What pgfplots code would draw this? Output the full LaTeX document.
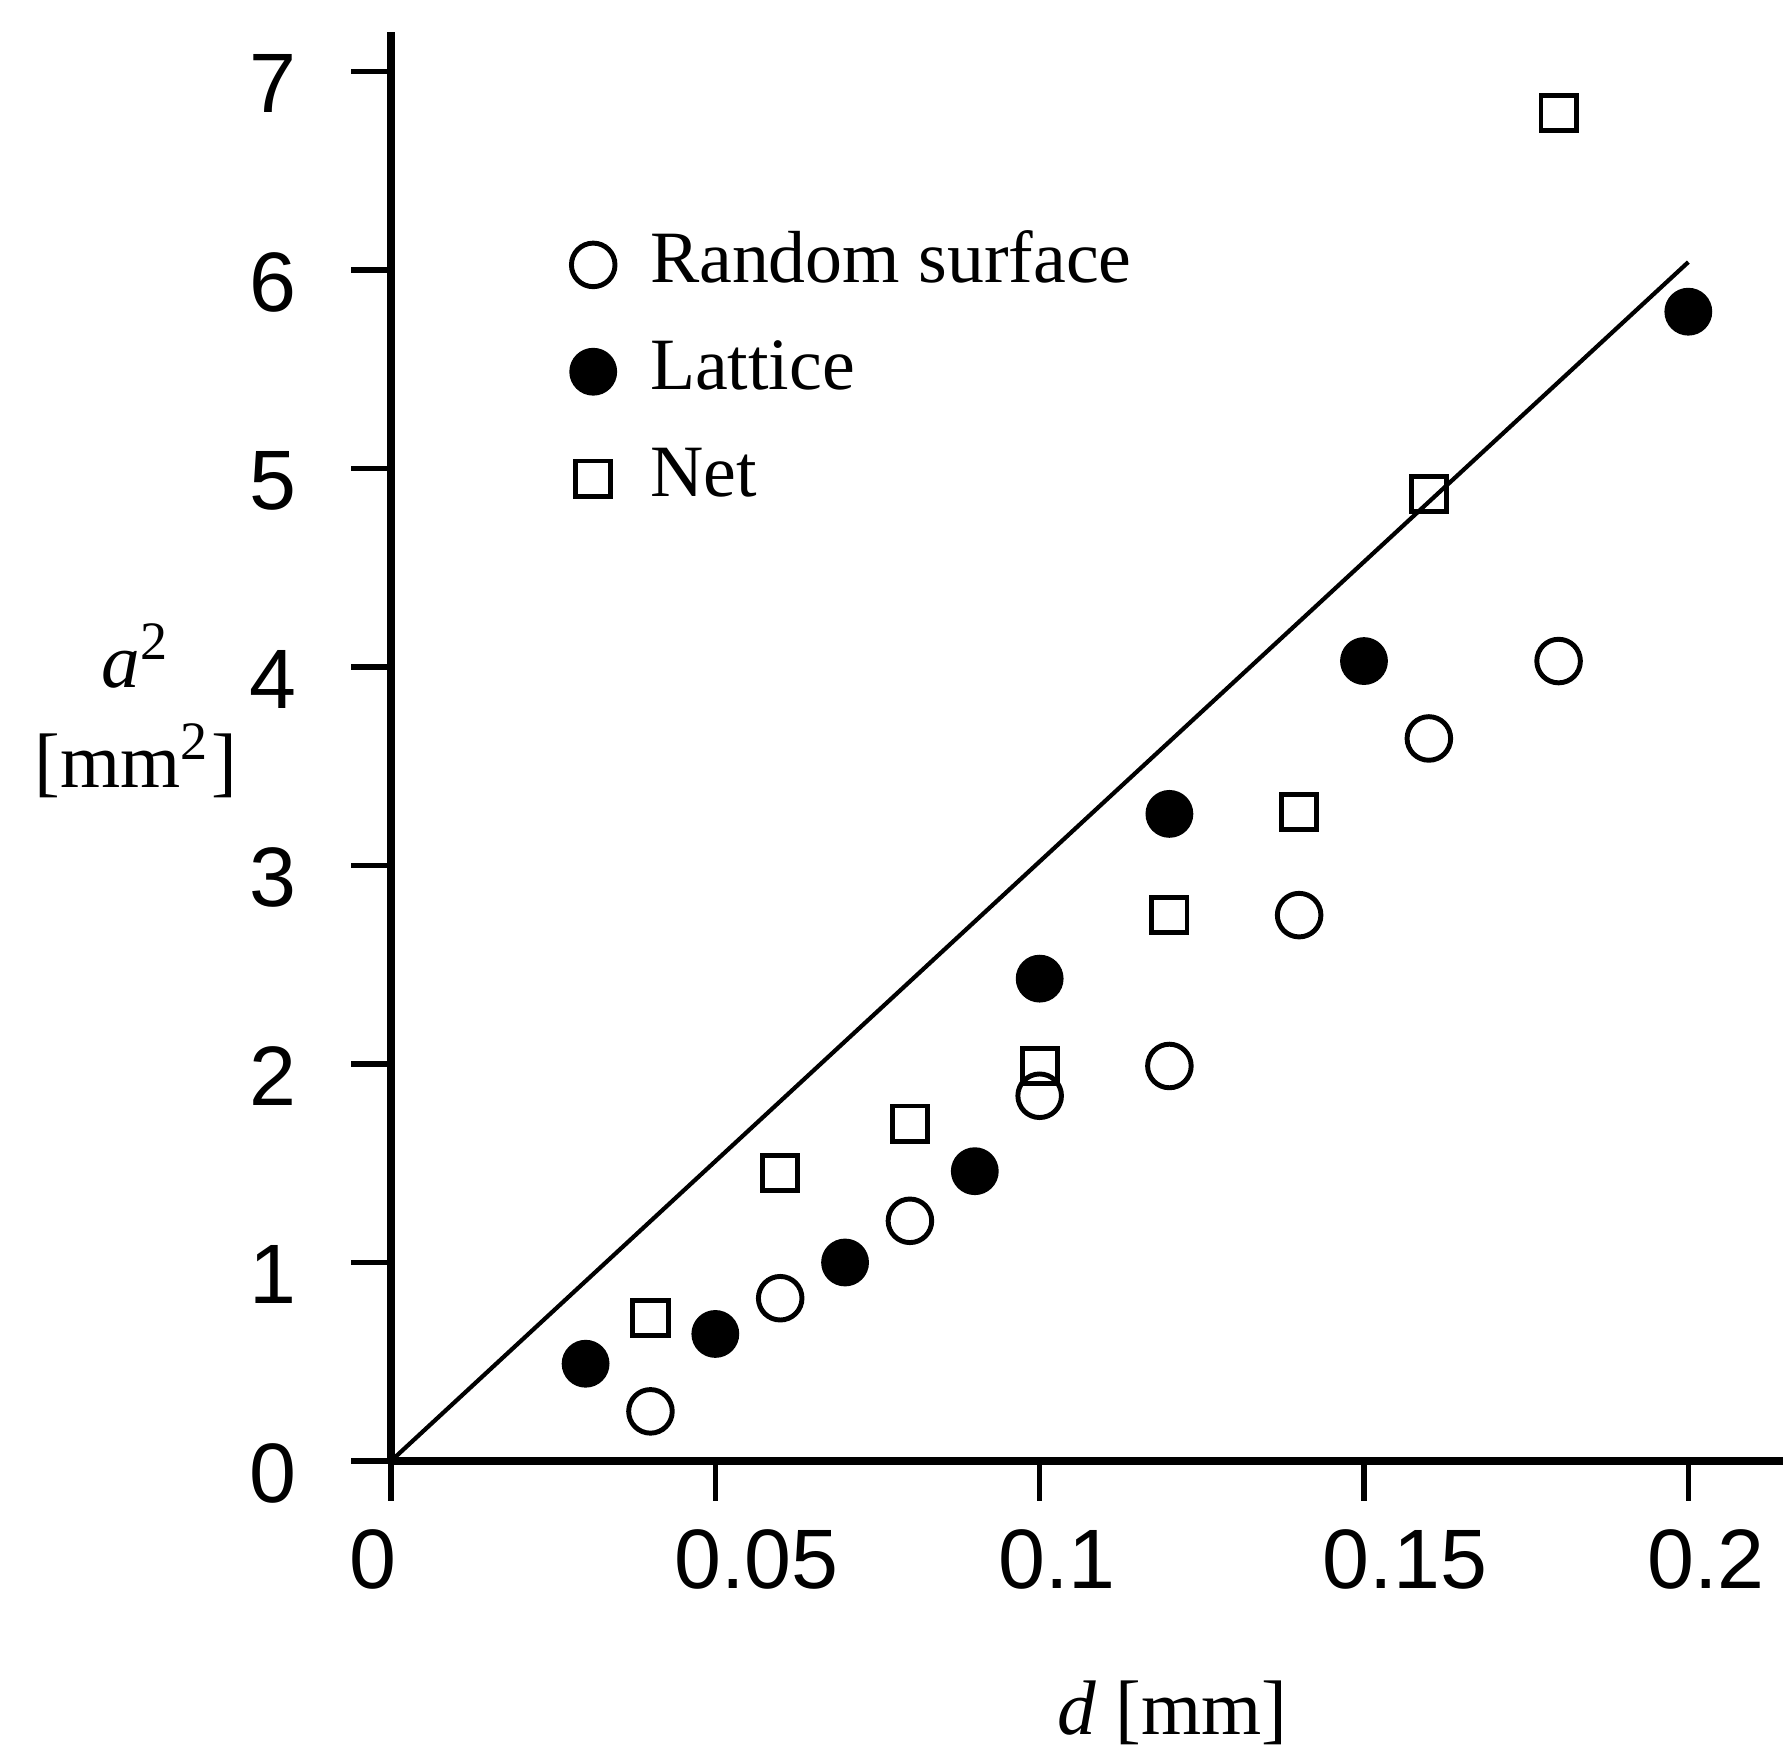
\documentclass[border=0pt]{standalone}
\usepackage{fontspec}
\setmainfont{Liberation Serif}
\newfontfamily\ticksans{Liberation Sans}
\usepackage{pgfplots}
\usepackage{pgfplotstable}
\pgfplotsset{compat=1.18}

% d [mm]  a^2 [mm^2]
\pgfplotstableread{
d    a
0.04 0.25
0.06 0.82
0.08 1.21
0.10 1.84
0.12 1.99
0.14 2.75
0.16 3.64
0.18 4.03
}\randomsurf

\pgfplotstableread{
d    a
0.03 0.49
0.05 0.64
0.07 1.00
0.09 1.46
0.10 2.43
0.12 3.26
0.15 4.03
0.20 5.79
}\lattice

\pgfplotstableread{
d    a
0.04 0.72
0.06 1.45
0.08 1.70
0.10 1.99
0.12 2.75
0.14 3.27
0.16 4.87
0.18 6.79
}\net

\begin{document}
\begin{tikzpicture}
\path[use as bounding box] (-1.955cm,-1.455cm) rectangle (7.005cm,7.305cm);
\begin{axis}[
    scale only axis,
    width=6.96cm, height=7.146cm,
    xmin=0, xmax=0.2146,
    ymin=0, ymax=7.2,
    axis lines=left,
    axis line style={-, line width=1pt},
    tick align=outside,
    major tick length=0.2cm,
    tick style={line width=0.8pt, black},
    xtick={0,0.05,0.1,0.15,0.2},
    xticklabels={0,0.05,0.1,0.15,0.2},
    ytick={0,1,...,7},
    /pgf/number format/assume math mode=true,
    ticklabel style={font=\ticksans\fontsize{12}{14}\selectfont},
    xticklabel style={anchor=north west, xshift=-0.33cm, yshift=-0.02cm},
    yticklabel style={anchor=east, xshift=-0.15cm, yshift=-0.06cm},
    xlabel={\textit{d} [mm]},
    xlabel style={at={(axis cs:0.1205,-1.27)}, anchor=center, font=\fontsize{11}{13}\selectfont},
    ylabel={\textit{a}\textsuperscript{2}\\{[mm\textsuperscript{2}]}},
    ylabel style={rotate=-90, align=center, at={(axis cs:-0.0393,3.78)}, anchor=center,
                  font=\fontsize{11}{14.2}\selectfont},
    clip=false,
    reverse legend,
    legend cell align=left,
    legend image code/.code={\draw[mark repeat=2,mark phase=2,#1]
        plot coordinates {(0cm,0cm) (0.1cm,0cm) (0.2cm,0cm)};},
    legend style={draw=none, fill=none, inner sep=0pt,
        at={(axis cs:0.0276,6.21)}, anchor=north west,
        font=\fontsize{10.5}{12}\selectfont,
        nodes={inner sep=0pt, text height=7.5pt, text depth=2.5pt},
        row sep=5.2pt, column sep=0.175cm},
]
\addplot[black, line width=0.6pt, forget plot] coordinates {(0,0) (0.2,6.04)};

\addplot[only marks, mark=square, mark size=2.5pt, mark options={line width=0.7pt, fill=none}]
    table[x=d, y=a] {\net};
\addlegendentry{Net}

\addplot[only marks, mark=*, mark size=3.05pt, mark options={line width=0.7pt, fill=black}]
    table[x=d, y=a] {\lattice};
\addlegendentry{Lattice}

\addplot[only marks, mark=o, mark size=3.1pt, mark options={line width=0.7pt, fill=white}]
    table[x=d, y=a] {\randomsurf};
\addlegendentry{Random surface}
\end{axis}
\end{tikzpicture}
\end{document}
